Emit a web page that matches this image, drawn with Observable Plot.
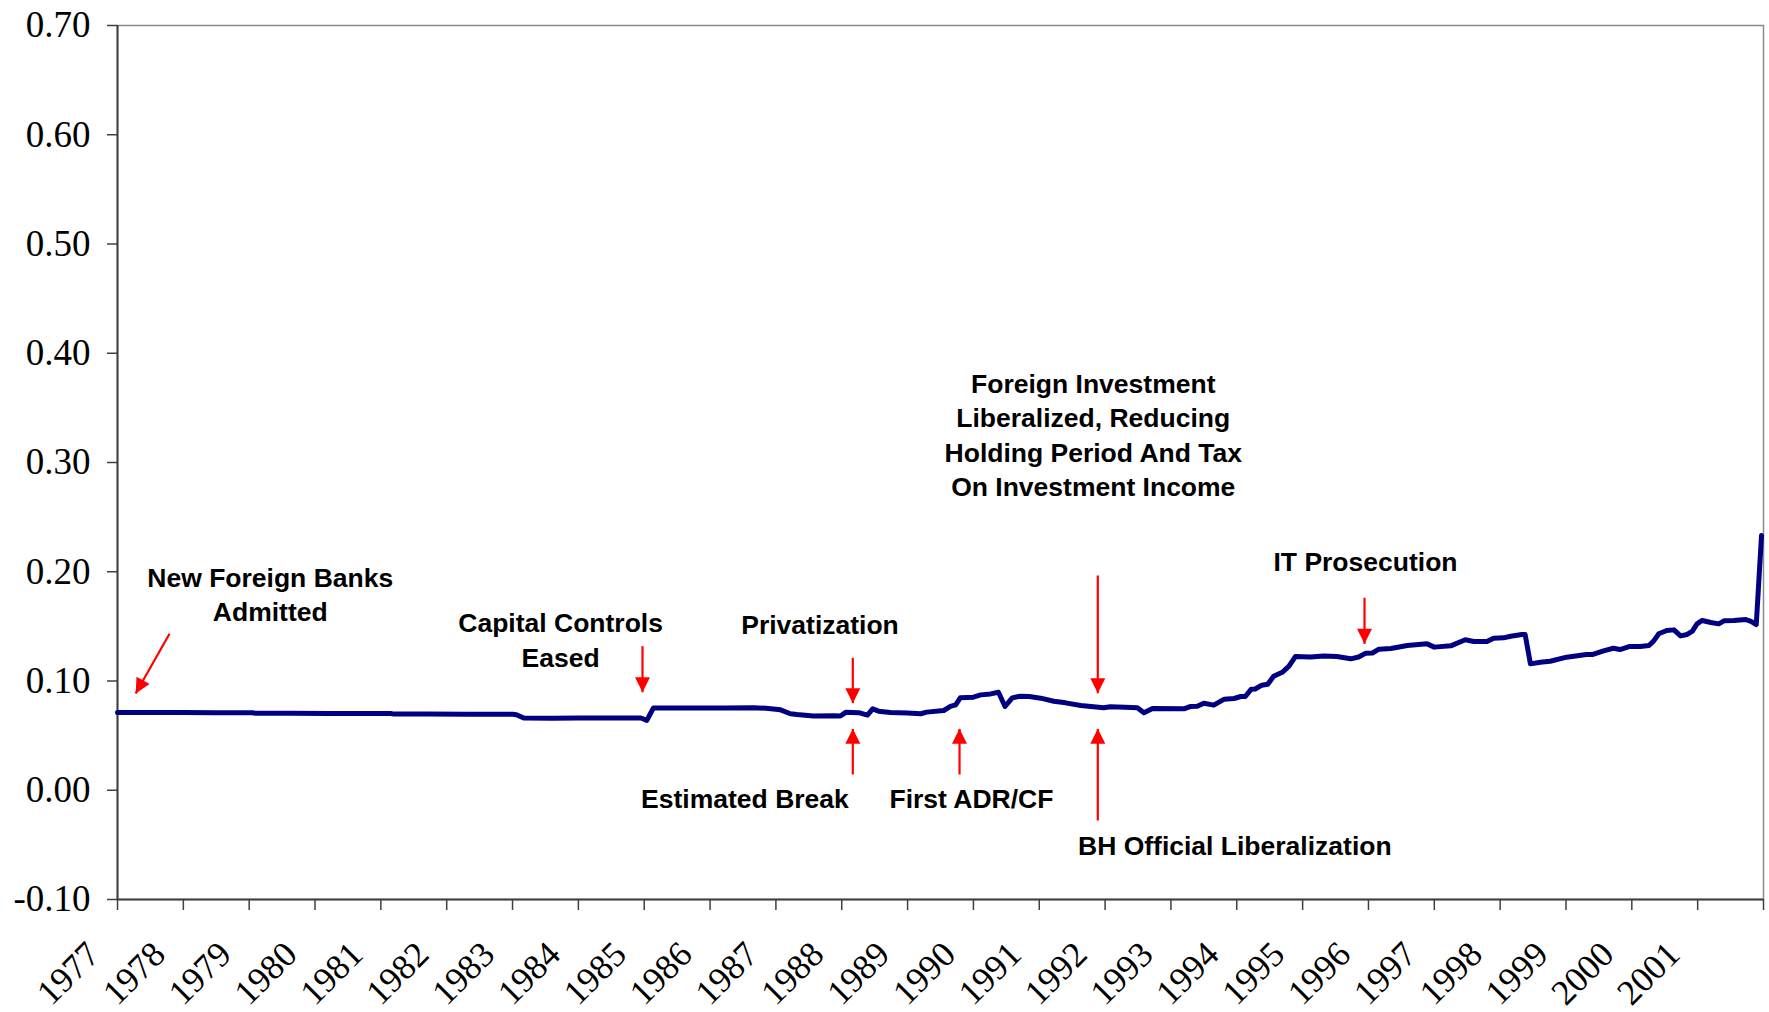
<!DOCTYPE html>
<html>
<head>
<meta charset="utf-8">
<script src="https://cdn.jsdelivr.net/npm/d3@7"></script>
<script src="https://cdn.jsdelivr.net/npm/@observablehq/plot@0.6"></script>
<style>
  html, body { margin: 0; padding: 0; background: #ffffff; }
  #chart svg { display: block; background: #ffffff; }
</style>
</head>
<body>
<div id="chart"></div>
<script>
// ---------------- DATA ----------------
// Decimal-year positions of the series and the values
const dates = [
  1977.00, 1977.50, 1978.00, 1978.50, 1979.05, 1979.10, 1979.60, 1980.20, 1980.80, 1981.15,
  1981.20, 1981.70, 1982.30, 1982.80, 1983.00, 1983.06, 1983.17, 1983.60, 1984.00, 1984.40,
  1984.60, 1984.95, 1985.04, 1985.14, 1985.60, 1986.20, 1986.66, 1986.85, 1987.07, 1987.22,
  1987.32, 1987.57, 1987.88, 1987.98, 1988.06, 1988.26, 1988.39, 1988.47, 1988.56, 1988.74,
  1989.00, 1989.20, 1989.29, 1989.55, 1989.65, 1989.73, 1989.80, 1990.00, 1990.11, 1990.26,
  1990.38, 1990.48, 1990.59, 1990.71, 1990.85, 1991.02, 1991.22, 1991.40, 1991.63, 1991.98,
  1992.08, 1992.30, 1992.49, 1992.59, 1992.72, 1993.20, 1993.30, 1993.40, 1993.50, 1993.65,
  1993.81, 1993.96, 1994.06, 1994.13, 1994.22, 1994.28, 1994.38, 1994.47, 1994.56, 1994.69,
  1994.79, 1994.89, 1995.12, 1995.32, 1995.52, 1995.73, 1995.85, 1995.96, 1996.06, 1996.16,
  1996.34, 1996.59, 1996.89, 1997.00, 1997.25, 1997.47, 1997.60, 1997.80, 1997.90, 1998.05,
  1998.16, 1998.33, 1998.38, 1998.46, 1998.61, 1998.76, 1999.01, 1999.31, 1999.41, 1999.57,
  1999.72, 1999.82, 1999.97, 2000.13, 2000.26, 2000.33, 2000.41, 2000.53, 2000.64, 2000.74,
  2000.84, 2000.92, 2000.99, 2001.07, 2001.20, 2001.32, 2001.40, 2001.55, 2001.73, 2001.81,
  2001.89, 2001.97
];
const values = [
  0.0711, 0.0711, 0.0711, 0.0710, 0.0710, 0.0704, 0.0704, 0.0703, 0.0703, 0.0702,
  0.0697, 0.0697, 0.0696, 0.0696, 0.0696, 0.0692, 0.0661, 0.0660, 0.0661, 0.0661,
  0.0662, 0.0661, 0.0640, 0.0754, 0.0754, 0.0754, 0.0755, 0.0751, 0.0736, 0.0700,
  0.0693, 0.0680, 0.0683, 0.0680, 0.0713, 0.0710, 0.0688, 0.0745, 0.0724, 0.0712,
  0.0708, 0.0700, 0.0715, 0.0730, 0.0767, 0.0782, 0.0846, 0.0852, 0.0873, 0.0882,
  0.0897, 0.0767, 0.0846, 0.0861, 0.0858, 0.0843, 0.0815, 0.0800, 0.0775, 0.0755,
  0.0765, 0.0760, 0.0755, 0.0709, 0.0748, 0.0745, 0.0767, 0.0768, 0.0797, 0.0779,
  0.0834, 0.0840, 0.0858, 0.0858, 0.0925, 0.0927, 0.0962, 0.0970, 0.1044, 0.1080,
  0.1133, 0.1224, 0.1220, 0.1228, 0.1224, 0.1203, 0.1220, 0.1255, 0.1256, 0.1291,
  0.1298, 0.1325, 0.1340, 0.1310, 0.1322, 0.1377, 0.1362, 0.1362, 0.1392, 0.1395,
  0.1410, 0.1426, 0.1425, 0.1157, 0.1172, 0.1181, 0.1218, 0.1243, 0.1243, 0.1276,
  0.1300, 0.1288, 0.1316, 0.1316, 0.1325, 0.1365, 0.1432, 0.1462, 0.1468, 0.1413,
  0.1426, 0.1456, 0.1523, 0.1554, 0.1535, 0.1523, 0.1551, 0.1554, 0.1563, 0.1545,
  0.1517, 0.2332
];

// Axis ticks and labels
const yearTicks = d3.range(1977, 2003);          // 1977 ... 2002
const yearLabels = d3.range(1977, 2002);         // 1977 ... 2001
const yTicks = [-0.10, 0.00, 0.10, 0.20, 0.30, 0.40, 0.50, 0.60, 0.70];

// Annotation texts (position in data units: decimal year, value)
const noteTexts = [
  "New Foreign Banks\nAdmitted",
  "Capital Controls\nEased",
  "Privatization",
  "Estimated Break",
  "First ADR/CF",
  "Foreign Investment\nLiberalized, Reducing\nHolding Period And Tax\nOn Investment Income",
  "BH Official Liberalization",
  "IT Prosecution"
];
const noteX = [1979.32, 1983.73, 1987.67, 1986.53, 1989.97, 1991.82, 1993.97, 1995.955];
const noteY = [0.1778, 0.1362, 0.1508, -0.0085, -0.0085, 0.3238, -0.0515, 0.2076];

// Event arrows: tail (x1,y1) -> tip (x2,y2), head direction in degrees (0 = up)
const arrowX1 = [1977.79, 1984.974, 1988.168, 1988.168, 1989.789, 1991.889, 1991.889, 1995.94];
const arrowY1 = [0.1432, 0.1319, 0.1212, 0.0144, 0.0144, 0.1966, -0.0277, 0.1762];
const arrowX2 = [1977.276, 1984.974, 1988.168, 1988.168, 1989.789, 1991.889, 1991.889, 1995.94];
const arrowY2 = [0.0886, 0.0897, 0.0797, 0.0562, 0.0562, 0.0888, 0.0562, 0.1340];
const arrowDir = [209.5, 180, 180, 0, 0, 180, 0, 180];

// ---------------- BUILD ----------------
const series = dates.map((d, i) => ({date: d, value: values[i]}));
const notes = noteTexts.map((t, i) => ({text: t, x: noteX[i], y: noteY[i]}));
const arrows = arrowX1.map((x, i) => ({x1: x, y1: arrowY1[i], x2: arrowX2[i], y2: arrowY2[i], dir: arrowDir[i]}));

// filled arrow head, tip at the origin pointing up
const headSymbol = {
  draw(ctx) {
    ctx.moveTo(0, 0);
    ctx.lineTo(-7.5, 15);
    ctx.lineTo(7.5, 15);
    ctx.closePath();
  }
};

const serif = "'Liberation Serif', 'Times New Roman', serif";
const sans = "'Liberation Sans', Arial, sans-serif";

const chart = Plot.plot({
  width: 1769,
  height: 1012,
  marginLeft: 117,
  marginRight: 6,
  marginTop: 25,
  marginBottom: 113,
  style: {background: "#ffffff"},
  x: {type: "linear", domain: [1977, 2002]},
  y: {type: "linear", domain: [-0.1, 0.7]},
  marks: [
    Plot.frame({stroke: "#8a8a8a", strokeWidth: 1.5}),
    Plot.ruleX([1977], {stroke: "#404040", strokeWidth: 2}),
    Plot.ruleY([-0.1], {stroke: "#404040", strokeWidth: 2}),
    Plot.axisY(yTicks, {
      tickSize: 10, tickPadding: 17, stroke: "#404040", strokeWidth: 1.5,
      fontSize: 37, fontFamily: serif, fill: "#000",
      tickFormat: d => d.toFixed(2), label: null
    }),
    Plot.axisX(yearTicks, {
      tickSize: 11, stroke: "#404040", strokeWidth: 1.5,
      tickFormat: () => "", label: null
    }),
    Plot.text(yearLabels, {
      x: d => d, frameAnchor: "bottom", text: d => String(d),
      rotate: -45, textAnchor: "end", lineAnchor: "middle",
      dx: -24, dy: 49, fontSize: 35.5, fontFamily: serif, fill: "#000"
    }),
    Plot.line(series, {
      x: "date", y: "value", stroke: "#000080", strokeWidth: 5,
      strokeLinejoin: "round", strokeLinecap: "round"
    }),
    Plot.link(arrows, {x1: "x1", y1: "y1", x2: "x2", y2: "y2", stroke: "#ff0000", strokeWidth: 2.2}),
    Plot.dot(arrows, {x: "x2", y: "y2", symbol: headSymbol, rotate: "dir", fill: "#ff0000", stroke: "none", r: 5}),
    Plot.text(notes, {
      x: "x", y: "y", text: "text", fontSize: 26.5, fontWeight: "bold",
      fontFamily: sans, lineHeight: 1.3, fill: "#000", textAnchor: "middle", dy: -3
    })
  ]
});

document.getElementById("chart").appendChild(chart);
</script>
</body>
</html>
